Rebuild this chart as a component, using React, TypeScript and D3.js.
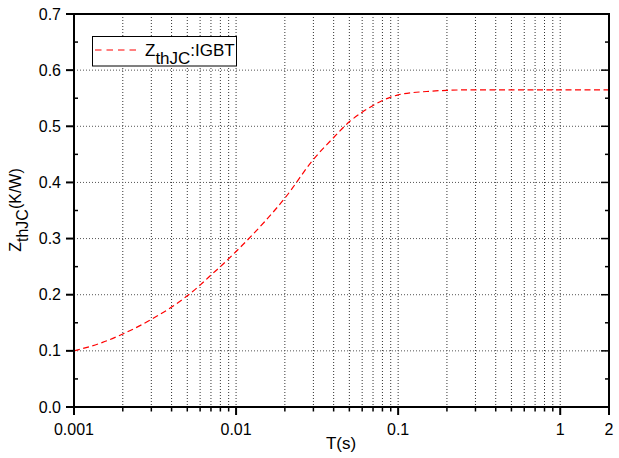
import React from "react";
import * as d3 from "d3";

const times = [0.001, 0.0015, 0.002, 0.003, 0.004, 0.005, 0.006, 0.007, 0.008, 0.009, 0.01, 0.015, 0.02, 0.03, 0.04, 0.05, 0.06, 0.07, 0.08, 0.09, 0.1, 0.15, 0.2, 0.3, 0.5, 1, 2];
const zth = [0.1, 0.115, 0.13, 0.156, 0.178, 0.198, 0.217, 0.235, 0.25, 0.264, 0.277, 0.33, 0.372, 0.441, 0.48, 0.508, 0.525, 0.537, 0.546, 0.552, 0.556, 0.562, 0.564, 0.565, 0.565, 0.565, 0.565];

const xMajor = [0.001, 0.01, 0.1, 1, 2];
const xMajorLabels = ["0.001", "0.01", "0.1", "1", "2"];
const yMajor = [0, 0.1, 0.2, 0.3, 0.4, 0.5, 0.6, 0.7];
const yMajorLabels = ["0.0", "0.1", "0.2", "0.3", "0.4", "0.5", "0.6", "0.7"];
const yMinor = [0.05, 0.15, 0.25, 0.35, 0.45, 0.55, 0.65];

const W = 619, H = 458;
const L = 74, R = 609, T = 14, B = 407;
const FONT = "Liberation Sans, Arial, sans-serif";

export default function App() {
  const x = d3.scaleLog().domain([0.001, 2]).range([L, R]);
  const y = d3.scaleLinear().domain([0, 0.7]).range([B, T]);

  const xMinor: number[] = [];
  [0.001, 0.01, 0.1, 1].forEach((d) => {
    for (let k = 2; k <= 9; k++) {
      const v = d * k;
      if (v < 2 - 1e-9) xMinor.push(v);
    }
  });

  const line = d3
    .line<number>()
    .x((_, i) => x(times[i]))
    .y((d) => y(d))
    .curve(d3.curveMonotoneX);
  const pathD = line(zth) || "";

  const gridVals = [...xMinor, 0.01, 0.1, 1];

  return (
    <svg width={W} height={H} style={{ position: "absolute", left: 0, top: 0, background: "#fff" }}>
      <rect x={0} y={0} width={W} height={H} fill="#fff" />
      {/* grid */}
      {gridVals.map((v, i) => (
        <line key={"gx" + i} x1={x(v)} x2={x(v)} y1={T} y2={B} stroke="#333" strokeWidth={1} strokeDasharray="1,2" />
      ))}
      {yMajor.slice(1, -1).map((v, i) => (
        <line key={"gy" + i} x1={L} x2={R} y1={y(v)} y2={y(v)} stroke="#555" strokeWidth={1} strokeDasharray="1,2" />
      ))}
      {/* curve */}
      <path d={pathD} fill="none" stroke="#ff0000" strokeWidth={1.2} strokeDasharray="6,3.5" />
      {/* frame */}
      <rect x={L} y={T} width={R - L} height={B - T} fill="none" stroke="#000" strokeWidth={2} />
      {/* x ticks */}
      {xMajor.map((v, i) => (
        <g key={"xt" + i}>
          <line x1={x(v)} x2={x(v)} y1={B} y2={B + 8} stroke="#000" strokeWidth={2} />
          <text x={x(v)} y={435} fontSize={16} fontFamily={FONT} textAnchor="middle">
            {xMajorLabels[i]}
          </text>
        </g>
      ))}
      {xMinor.map((v, i) => (
        <line key={"xm" + i} x1={x(v)} x2={x(v)} y1={B} y2={B + 4.5} stroke="#000" strokeWidth={1.5} />
      ))}
      {/* y ticks */}
      {yMajor.map((v, i) => (
        <g key={"yt" + i}>
          <line x1={L - 8} x2={L} y1={y(v)} y2={y(v)} stroke="#000" strokeWidth={2} />
          <text x={61} y={y(v) + 5.5} fontSize={16} fontFamily={FONT} textAnchor="end">
            {yMajorLabels[i]}
          </text>
        </g>
      ))}
      {yMinor.map((v, i) => (
        <g key={"ym" + i}>
          <line x1={L} x2={L + 4} y1={y(v)} y2={y(v)} stroke="#000" strokeWidth={1.5} />
          <line x1={R - 4} x2={R} y1={y(v)} y2={y(v)} stroke="#000" strokeWidth={1.5} />
        </g>
      ))}
      {yMajor.slice(1, -1).map((v, i) => (
        <line key={"yr" + i} x1={R - 8} x2={R} y1={y(v)} y2={y(v)} stroke="#000" strokeWidth={1.5} />
      ))}
      {/* axis titles */}
      <text x={341} y={449} fontSize={17} fontFamily={FONT} textAnchor="middle">
        T(s)
      </text>
      <text transform="translate(21,210) rotate(-90)" fontSize={16} fontFamily={FONT} textAnchor="middle">
        Z<tspan dy={7}>thJC</tspan>
        <tspan dy={-7}>(K/W)</tspan>
      </text>
      {/* legend */}
      <rect x={92.5} y={36.5} width={144} height={29.5} fill="#fff" stroke="#000" strokeWidth={1} />
      <line x1={95} x2={141} y1={50} y2={50} stroke="#ff0000" strokeWidth={1.2} strokeDasharray="6.5,5" />
      <text x={145} y={56} fontSize={17} fontFamily={FONT}>
        Z<tspan dy={8}>thJC</tspan>
        <tspan dy={-8}>:IGBT</tspan>
      </text>
    </svg>
  );
}
